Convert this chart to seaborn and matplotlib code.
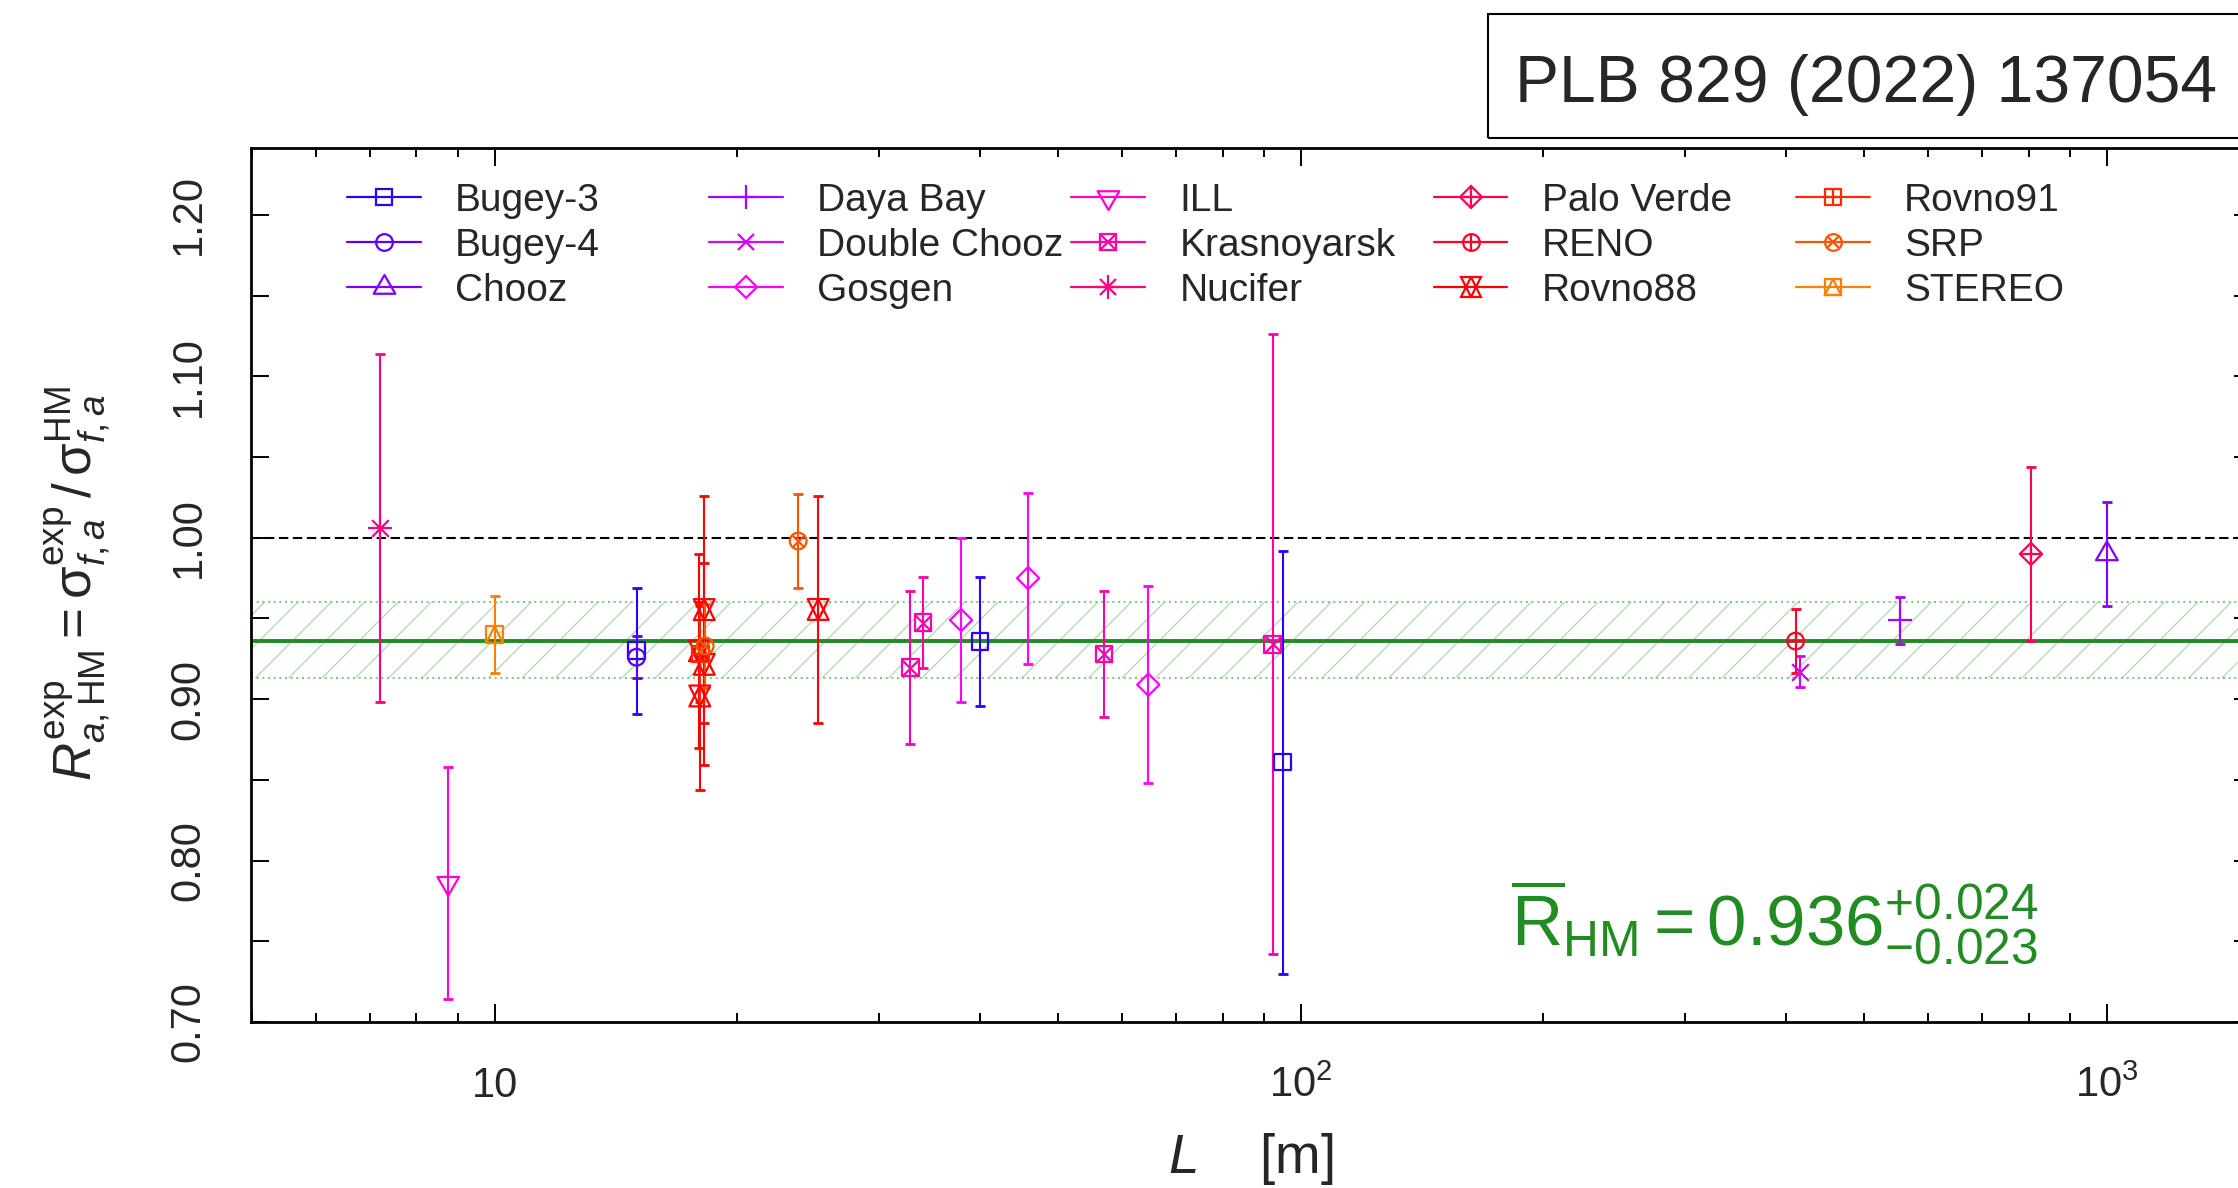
import colorsys
import numpy as np
import pandas as pd
import matplotlib
matplotlib.use("Agg")
import matplotlib.pyplot as plt
import seaborn as sns
from matplotlib.lines import Line2D
from matplotlib.legend import Legend
from matplotlib.legend_handler import HandlerTuple
from matplotlib.markers import MarkerStyle
from matplotlib.patches import Rectangle
from matplotlib.path import Path
from matplotlib import transforms

# ---------------- data ----------------
experiments = ["Bugey-3", "Bugey-4", "Chooz", "Daya Bay", "Double Chooz", "Gosgen",
               "ILL", "Krasnoyarsk", "Nucifer", "Palo Verde", "RENO", "Rovno88",
               "Rovno91", "SRP", "STEREO"]

point_exp = ["Bugey-3", "Bugey-3", "Bugey-3",
             "Bugey-4",
             "Chooz",
             "Daya Bay",
             "Double Chooz",
             "Gosgen", "Gosgen", "Gosgen",
             "ILL",
             "Krasnoyarsk", "Krasnoyarsk", "Krasnoyarsk", "Krasnoyarsk",
             "Nucifer",
             "Palo Verde",
             "RENO",
             "Rovno88", "Rovno88", "Rovno88", "Rovno88", "Rovno88",
             "Rovno91",
             "SRP", "SRP",
             "STEREO"]
point_L = [15.0, 40.0, 95.0,
           15.0,
           1000.0,
           553.0,
           416.0,
           37.9, 45.9, 64.7,
           8.76,
           32.8, 34.0, 57.0, 92.3,
           7.2,
           805.0,
           411.0,
           17.95, 17.97, 18.2, 18.2, 25.2,
           18.0,
           18.25, 23.8,
           10.0]
point_R = [0.930, 0.9356, 0.861,
           0.926,
           0.990,
           0.949,
           0.917,
           0.949, 0.975, 0.909,
           0.786,
           0.9195, 0.9475, 0.928, 0.934,
           1.006,
           0.990,
           0.936,
           0.930, 0.902, 0.9216, 0.9555, 0.9556,
           0.928,
           0.933, 0.998,
           0.940]
point_err = [0.039, 0.040, 0.131,
             0.013,
             0.032,
             0.0145,
             0.0095,
             0.051, 0.053, 0.061,
             0.072,
             0.0475, 0.028, 0.039, 0.192,
             0.108,
             0.054,
             0.020,
             0.060, 0.058, 0.0625, 0.0705, 0.0705,
             0.030,
             0.026, 0.029,
             0.024]

mean_R = 0.936
mean_err_up = 0.024
mean_err_dn = 0.023

y_ticks = [0.70, 0.80, 0.90, 1.00, 1.10, 1.20]
y_tick_labels = ["0.70", "0.80", "0.90", "1.00", "1.10", "1.20"]
x_ticks = [10, 100, 1000]
x_tick_labels = ["10", r"$10^2$", r"$10^3$"]
ref_label = "PLB 829 (2022) 137054"

# ---------------- style ----------------
sns.set_theme(style="ticks")
plt.rcParams["font.family"] = ["Liberation Sans", "DejaVu Sans"]
plt.rcParams["mathtext.fontset"] = "custom"
plt.rcParams["mathtext.rm"] = "Liberation Sans"
plt.rcParams["mathtext.sf"] = "Liberation Sans"
plt.rcParams["mathtext.it"] = "Liberation Sans:italic"
plt.rcParams["mathtext.bf"] = "Liberation Sans:bold"
plt.rcParams["hatch.linewidth"] = 1.0
plt.rcParams["axes.edgecolor"] = "black"

GREEN = "#228B22"
colors = [colorsys.hsv_to_rgb(((250 + 10 * i) % 360) / 360.0, 1.0, 1.0)
          for i in range(len(experiments))]

tri_up = Path([(0, 1.5551), (1.3468, -0.7776), (-1.3468, -0.7776), (0, 0)],
              [Path.MOVETO, Path.LINETO, Path.LINETO, Path.CLOSEPOLY])
tri_dn = Path([(0, -1.5551), (1.3468, 0.7776), (-1.3468, 0.7776), (0, 0)],
              [Path.MOVETO, Path.LINETO, Path.LINETO, Path.CLOSEPOLY])

marker_parts = {
    "Bugey-3": [("s", 12)],
    "Bugey-4": [("o", 12)],
    "Chooz": [(tri_up, 18)],
    "Daya Bay": [("+", 17)],
    "Double Chooz": [("x", 12)],
    "Gosgen": [("D", 11.3)],
    "ILL": [(tri_dn, 18)],
    "Krasnoyarsk": [("s", 12), ("x", 12)],
    "Nucifer": [("+", 17), ("x", 12)],
    "Palo Verde": [("D", 11.3), ("+", 16)],
    "RENO": [("o", 12), ("+", 12)],
    "Rovno88": [("^", 15), ("v", 15)],
    "Rovno91": [("s", 12), ("+", 12)],
    "SRP": [("o", 12), ("x", 8.5)],
    "STEREO": [("s", 12), ("^", 12)],
}

W, H = 2238, 1188
def fx(px):
    return px / W
def fy(py):
    return 1 - py / H

AX_L, AX_R, AX_T, AX_B = 251, 2252, 148, 1022

fig = plt.figure(figsize=(W / 100, H / 100), dpi=100)
ax = fig.add_axes([fx(AX_L), fy(AX_B), (AX_R - AX_L) / W, (AX_B - AX_T) / H])
ax.set_xscale("log")
ax.set_xlim(4.987, 1513.5)
ax.set_ylim(0.70, 1.2415)

# band, reference lines
ax.axhspan(mean_R - mean_err_dn, mean_R + mean_err_up, facecolor="none",
           edgecolor="#b4ddb4", hatch="/", linewidth=0, zorder=1)
for yb in (mean_R - mean_err_dn, mean_R + mean_err_up):
    ax.axhline(yb, color="#6cbc6c", lw=1.2, ls=(0, (1.2, 2.2)), zorder=1.1)
ax.axhline(1.0, color="black", lw=1.5, ls=(0, (4.5, 2.2)), zorder=1.2)
ax.axhline(mean_R, color=GREEN, lw=2.8, zorder=1.3)

df = pd.DataFrame({"experiment": point_exp, "L": point_L, "R": point_R, "err": point_err})


def draw_marker(sub, m, ms, col):
    if MarkerStyle(m).is_filled():
        sns.scatterplot(data=sub, x="L", y="R", marker=m, s=ms ** 2, color=col,
                        facecolors="none", edgecolor=col, linewidths=1.6,
                        legend=False, ax=ax, zorder=4)
    else:
        sns.scatterplot(data=sub, x="L", y="R", marker=m, s=ms ** 2, color=col,
                        linewidths=1.6, legend=False, ax=ax, zorder=4)


for i, name in enumerate(experiments):
    sub = df[df["experiment"] == name]
    col = colors[i]
    ax.errorbar(sub["L"], sub["R"], yerr=sub["err"], fmt="none", ecolor=col,
                elinewidth=1.5, capsize=3.3, capthick=2.0, zorder=3)
    for m, ms in marker_parts[name]:
        draw_marker(sub, m, ms, col)

ax.set_xlabel("")
ax.set_ylabel("")

# ticks
minor_x = [s * 10 ** k for k in range(0, 4) for s in range(2, 10)]
minor_x = [v for v in minor_x if 4.987 < v < 1513.5]
ax.set_xticks(x_ticks)
ax.set_xticklabels(["" for _ in x_ticks])
ax.set_xticks(minor_x, minor=True)
ax.set_xticklabels(["" for _ in minor_x], minor=True)
ax.set_yticks(y_ticks)
ax.set_yticklabels(["" for _ in y_ticks])
ax.set_yticks([v + 0.05 for v in y_ticks[:-1]], minor=True)
ax.tick_params(axis="both", which="both", direction="in", top=True, right=True,
               width=1.4, color="black")
ax.tick_params(axis="x", which="major", length=13)
ax.tick_params(axis="x", which="minor", length=6.5)
ax.tick_params(axis="y", which="both", length=13)
for sp in ax.spines.values():
    sp.set_linewidth(2.0)
    sp.set_color("black")

tr_x = transforms.blended_transform_factory(ax.transData, ax.transAxes)
for v, lab in zip(x_ticks, x_tick_labels):
    ax.text(v, -(1096.7 - AX_B) / (AX_B - AX_T), lab, transform=tr_x,
            ha="center", va="baseline", fontsize=30)
tr_y = transforms.blended_transform_factory(ax.transAxes, ax.transData)
for v, lab in zip(y_ticks, y_tick_labels):
    ax.text((188.5 - AX_L) / (AX_R - AX_L), v, lab, transform=tr_y,
            rotation=90, ha="center", va="center", fontsize=30)

# axis labels
fig.text(fx(77.5), fy(583.5),
         r"$R^{\mathrm{exp}}_{a,\mathrm{HM}} = \mathrm{\sigma}^{\mathrm{exp}}_{f,a}\,/\,\mathrm{\sigma}^{\mathrm{HM}}_{f,a}$",
         rotation=90, ha="center", va="center", fontsize=38)
fig.text(fx(1251), fy(1172.7), r"$L$    [m]", ha="center", va="baseline", fontsize=39.5)

# legend: five fixed-pitch columns
def legend_handle(name, col):
    hs = []
    for j, (m, ms) in enumerate(marker_parts[name]):
        hs.append(Line2D([], [], color=col, lw=1.6 if j == 0 else 0,
                         linestyle="-" if j == 0 else "none", marker=m, markersize=ms,
                         markerfacecolor="none", markeredgecolor=col, markeredgewidth=1.6))
    return tuple(hs) if len(hs) > 1 else hs[0]

col_px = [347, 709.2, 1071.4, 1433.6, 1795.8]
for c in range(5):
    names = experiments[3 * c:3 * c + 3]
    handles = [legend_handle(n, colors[experiments.index(n)]) for n in names]
    leg = Legend(ax, handles, names, loc="upper left",
                 bbox_to_anchor=((col_px[c] - AX_L) / (AX_R - AX_L), 0.9602),
                 frameon=False, fontsize=28, handlelength=1.9, handletextpad=0.88,
                 labelspacing=0.23, borderpad=0, borderaxespad=0,
                 handler_map={tuple: HandlerTuple(ndivide=1)})
    ax.add_artist(leg)

# mean annotation
ann = (r"$\overline{\mathrm{R}}_{\mathrm{HM}} = " + f"{mean_R:.3f}" +
       r"^{+" + f"{mean_err_up:.3f}" + r"}_{-" + f"{mean_err_dn:.3f}" + r"}$")
fig.text(fx(1511), fy(945), ann, color=GREEN, fontsize=51, ha="left", va="baseline")

# reference box
fig.add_artist(Rectangle((fx(1488), fy(138)), (2262 - 1488) / W, (138 - 14) / H,
                         transform=fig.transFigure, fill=False, lw=1.5,
                         edgecolor="black", clip_on=False))
fig.text(fx(1515), fy(101.7), ref_label, fontsize=47.5, ha="left", va="baseline")

fig.savefig("out.png", dpi=100)
